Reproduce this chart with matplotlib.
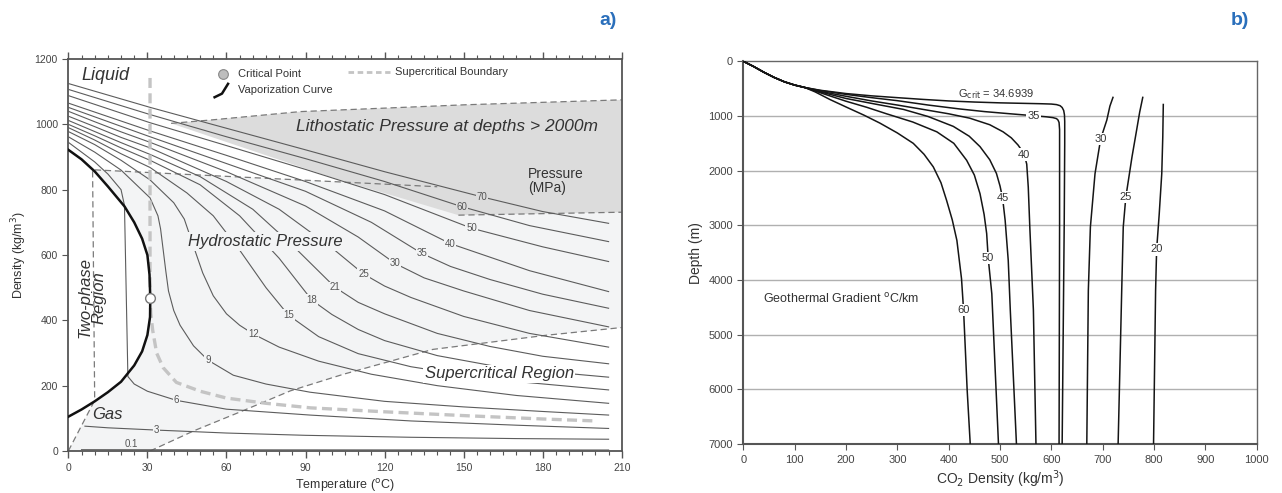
import matplotlib
matplotlib.use("Agg")
import matplotlib.pyplot as plt
import numpy as np

plt.rcParams['font.family'] = ['Liberation Sans', 'DejaVu Sans']

# ---------------- panel a data: isobars as (temperature C, density kg/m3) ----------------
iso_01 = [(5, 4), (60, 3.5), (205, 3)]
iso_3 = [(6.3, 76), (15, 71), (33.5, 64), (60, 55), (90, 48), (130, 42), (170, 38), (205, 36)]
iso_6 = [(0, 945), (10, 885), (15, 848), (20, 800), (21.3, 752), (22.6, 228), (25, 205), (30, 183),
         (41, 155), (60, 128), (91.7, 110), (130, 92), (170, 79), (205, 69)]
iso_9 = [(0, 962), (10, 915), (20, 860), (31, 775), (34, 720), (35, 680), (36, 615), (37, 550),
         (38, 490), (40, 430), (42.4, 385), (47.5, 322), (53, 278), (62.6, 232), (75, 205),
         (91.7, 180), (120, 152), (150, 135), (180, 121), (205, 110)]
iso_12 = [(0, 978), (10, 938), (20, 890), (31, 830), (40, 760), (44, 710), (48, 615), (51, 545),
          (55, 475), (60, 420), (65, 385), (70.2, 358), (80, 318), (95, 275), (115, 235),
          (140, 200), (170, 170), (205, 146)]
iso_15 = [(0, 990), (10, 952), (20, 910), (31, 868), (45, 790), (55, 720), (65, 615), (75, 500),
          (83.5, 416), (95, 350), (110, 298), (130, 258), (160, 220), (205, 187)]
iso_18 = [(0, 1000), (10, 965), (20, 928), (31, 890), (50, 815), (65, 720), (80, 590), (92.4, 462),
          (100, 418), (110, 372), (120, 338), (140, 292), (165, 255), (205, 226)]
iso_21 = [(0, 1012), (10, 978), (20, 944), (31, 908), (50, 840), (70, 740), (85, 630), (101.2, 501),
          (110, 455), (120, 420), (140, 360), (160, 320), (180, 290), (205, 267)]
iso_25 = [(0, 1025), (10, 993), (20, 960), (31, 928), (60, 825), (80, 740), (100, 622), (112, 542),
          (120, 505), (130, 470), (150, 412), (175, 360), (205, 318)]
iso_30 = [(0, 1040), (10, 1008), (20, 977), (31, 945), (60, 855), (90, 750), (110, 655), (124, 574),
          (135, 530), (150, 490), (175, 430), (205, 380)]
iso_35 = [(0, 1052), (31, 962), (60, 880), (90, 795), (115, 700), (134.1, 605), (145, 565),
          (160, 525), (180, 480), (205, 437)]
iso_40 = [(0, 1065), (31, 980), (60, 905), (90, 825), (120, 735), (144.9, 635), (175, 552), (205, 488)]
iso_50 = [(0, 1088), (31, 1005), (60, 935), (90, 862), (120, 785), (153, 682), (180, 625), (205, 580)]
iso_60 = [(0, 1107), (31, 1030), (60, 962), (90, 895), (120, 825), (149.3, 748), (175, 690), (205, 641)]
iso_70 = [(0, 1125), (31, 1052), (60, 988), (90, 922), (120, 855), (156.9, 778), (180, 733), (205, 697)]

iso_names = ['0.1', '3', '6', '9', '12', '15', '18', '21', '25', '30', '35', '40', '50', '60', '70']
iso_data = [iso_01, iso_3, iso_6, iso_9, iso_12, iso_15, iso_18, iso_21, iso_25, iso_30,
            iso_35, iso_40, iso_50, iso_60, iso_70]

# vaporization curve (lower branch -> critical point -> upper branch)
vap_T = [0, 5, 10, 15, 20, 25, 28, 30, 31, 31.1, 30.8, 30, 28, 25, 21.3, 15, 10, 5, 0]
vap_rho = [105, 127, 152, 180, 212, 262, 305, 355, 410, 468, 540, 600, 650, 700, 749, 810, 856, 893, 922]
crit_T, crit_rho = 31.1, 468

# supercritical boundary (thick grey dashes)
sc_T = [31, 31, 31.3, 32, 33.5, 36, 41, 50, 60, 75, 92, 120, 151, 180, 200]
sc_rho = [1142, 470, 420, 370, 300, 255, 210, 183, 162, 146, 132, 120, 108, 98, 92]

# hydrostatic region boundaries (thin dashes)
gasbox_T = [0, 10, 9.2, 140]
gasbox_rho = [0, 155, 861, 809]
hydro_T = [31, 47.7, 65.3, 84.2, 104.4, 138.3, 181, 210]
hydro_rho = [0, 62, 120, 184, 235, 311, 354, 378]

# lithostatic wedge
litho_top_T = [39, 55, 88, 151, 210]
litho_top_rho = [1003, 1014, 1039, 1060, 1075]
litho_bot_T = [148, 210]
litho_bot_rho = [722, 731]
litho_edge_T = [99]
litho_edge_rho = [840]

# ---------------- panel b data: density (kg/m3) vs depth (m) per gradient ----------------
bundle = [(0, 0), (20, 95), (40, 200), (60, 295), (80, 375), (100, 435), (120, 480)]
g_crit = bundle + [(150, 530), (200, 590), (250, 632), (300, 665), (350, 697), (400, 725), (450, 745),
                   (500, 760), (550, 770), (580, 776), (600, 782), (610, 792), (617, 812), (621, 845),
                   (624, 900), (625.5, 980), (626, 1100), (626, 1500), (625, 3000), (623, 5000),
                   (621, 7000)]
g_35 = bundle + [(150, 535), (200, 605), (250, 665), (300, 720), (360, 800), (420, 870), (470, 920),
                 (520, 960), (565, 995), (590, 1015), (603, 1030), (610, 1048), (613, 1075),
                 (615, 1120), (616, 1250), (616, 3000), (615, 7000)]
g_40 = bundle + [(150, 550), (200, 640), (250, 725), (300, 800), (344, 870), (400, 960), (441, 1040),
                 (480, 1160), (506, 1290), (522, 1400), (535, 1530), (544, 1650), (549, 1770),
                 (552, 1880), (555, 2300), (558, 3030), (565, 4550), (570, 7000)]
g_45 = bundle + [(150, 560), (200, 680), (250, 770), (312, 880), (360, 1010), (409, 1190), (440, 1370),
                 (461, 1560), (480, 1800), (493, 2050), (500, 2280), (505, 2500), (510, 2910),
                 (516, 3640), (520, 4550), (532, 7000)]
g_50 = bundle + [(150, 575), (200, 730), (240, 840), (279, 960), (330, 1110), (377, 1290), (410, 1500),
                 (435, 1810), (450, 2080), (461, 2420), (469, 2800), (474, 3150), (477, 3600),
                 (484, 4250), (497, 7000)]
g_60 = bundle + [(140, 560), (169, 700), (200, 835), (235, 985), (266, 1130), (300, 1310), (331, 1500),
                 (352, 1700), (370, 1930), (385, 2220), (396, 2545), (407, 2900), (416, 3275),
                 (425, 3975), (429, 4550), (436, 6010), (442, 7000)]
g_30 = [(720, 660), (714, 820), (708, 1075), (696, 1420), (685, 2055), (676, 3030), (672, 4190), (669, 7000)]
g_25 = [(778, 660), (772, 930), (766, 1260), (757, 1750), (745, 2485), (740, 3030), (737, 4190), (730, 7000)]
g_20 = [(818, 790), (817, 1380), (815, 2055), (810, 2800), (805, 3445), (803, 4190), (799, 7000)]

grad_names = ['60', '50', '45', '40', '35', '30', '25', '20']
grad_data = [g_60, g_50, g_45, g_40, g_35, g_30, g_25, g_20]

# ---------------- figure ----------------
FILL = '#f3f4f5'
LITHO = '#dcdcdc'
LINE = '#5c5c5c'
DASH = '#7a7a7a'
SCGREY = '#c4c4c4'
TXT = '#333333'

fig = plt.figure(figsize=(12.82, 4.93), dpi=100)
ax = fig.add_axes([0.0533, 0.0852, 0.4317, 0.7951])
bx = fig.add_axes([0.5798, 0.0990, 0.4005, 0.7767])

# ---- panel a ----
ax.set_xlim(0, 210)
ax.set_ylim(0, 1200)

fx = gasbox_T + [210, 210] + hydro_T[::-1]
fy = gasbox_rho + [800, 378] + hydro_rho[::-1]
ax.fill(fx, fy, color=FILL, lw=0, zorder=0)

lx = litho_top_T + litho_bot_T[::-1] + litho_edge_T
ly = litho_top_rho + litho_bot_rho[::-1] + litho_edge_rho
ax.fill(lx, ly, color=LITHO, lw=0, zorder=0.5)
ax.plot(litho_top_T, litho_top_rho, color=DASH, lw=0.9, dashes=(5, 3), zorder=2)
ax.plot(litho_bot_T, litho_bot_rho, color=DASH, lw=0.9, dashes=(5, 3), zorder=2)

ax.fill(vap_T, vap_rho, color='white', lw=0, zorder=1)

ax.plot(gasbox_T, gasbox_rho, color=DASH, lw=0.9, dashes=(5, 3), zorder=2)
ax.plot(hydro_T, hydro_rho, color=DASH, lw=0.9, dashes=(5, 3), zorder=2)

label_T = [24, 33.5, 41, 53, 70.2, 83.5, 92.4, 101.2, 112, 124, 134.1, 144.9, 153, 149.3, 156.9]
for name, pts, tl in zip(iso_names, iso_data, label_T):
    t = [p[0] for p in pts]
    r = [p[1] for p in pts]
    ax.plot(t, r, color=LINE, lw=0.8, zorder=3)
    if name == '0.1':
        ax.text(tl, 22, name, fontsize=7, color='#555', ha='center', va='center', zorder=6)
        continue
    rl = np.interp(tl, t, r)
    fc = LITHO if name in ('60', '70') else FILL
    ax.text(tl, rl, name, fontsize=7, color='#555', ha='center', va='center', zorder=6,
            bbox=dict(boxstyle='square,pad=0.08', fc=fc, ec='none'))

ax.plot(sc_T, sc_rho, color=SCGREY, lw=2.4, dashes=(3, 1.6), zorder=3.5)
ax.plot(vap_T, vap_rho, color='#111111', lw=1.8, zorder=4)
ax.plot(crit_T, crit_rho, 'o', ms=7, mfc='white', mec='#777', mew=1.0, zorder=5)

# legend drawn in data space
ax.plot(58.6, 1153, 'o', ms=7, mfc='#bdbdbd', mec='#888', mew=0.8)
ax.text(64.4, 1153, 'Critical Point', fontsize=8, color=TXT, va='center')
ax.plot([55.5, 58.3, 60.6], [1083, 1094, 1124], color='#111', lw=1.8)
ax.text(64.4, 1105, 'Vaporization Curve', fontsize=8, color=TXT, va='center')
ax.plot([106.3, 122], [1160, 1160], color=SCGREY, lw=2, dashes=(2, 1.3))
ax.text(124, 1160, 'Supercritical Boundary', fontsize=8, color=TXT, va='center')

ax.text(13.9, 1148, 'Liquid', fontsize=13, style='italic', color=TXT, ha='center', va='center')
ax.text(143.7, 993, 'Lithostatic Pressure at depths > 2000m', fontsize=12.5, style='italic',
        color=TXT, ha='center', va='center', zorder=6)
ax.text(174.5, 868, 'Pressure\n(MPa)', fontsize=10, color=TXT, ha='left', va='top',
        linespacing=1.0, zorder=6)
ax.text(74.6, 641, 'Hydrostatic Pressure', fontsize=12, style='italic', color=TXT, ha='center',
        va='center', zorder=6, bbox=dict(boxstyle='square,pad=0.1', fc=FILL, ec='none'))
ax.text(163.5, 236, 'Supercritical Region', fontsize=12, style='italic', color=TXT, ha='center',
        va='center', zorder=6, bbox=dict(boxstyle='square,pad=0.1', fc='white', ec='none'))
ax.text(9, 471, 'Two-phase\nRegion', fontsize=12, style='italic', color=TXT, ha='center',
        va='center', rotation=90, linespacing=0.95, zorder=6)
ax.text(14.9, 112, 'Gas', fontsize=12, style='italic', color=TXT, ha='center', va='center', zorder=6)

ax.set_xticks(range(0, 211, 30))
ax.set_xticks(range(0, 211, 5), minor=True)
ax.set_yticks(range(0, 1201, 200))
ax.tick_params(axis='x', which='both', direction='out', top=True, colors='#555',
               labelcolor='#444', labelsize=7.5)
ax.tick_params(axis='x', which='major', length=5, width=1)
ax.tick_params(axis='x', which='minor', length=3, width=0.8)
ax.tick_params(axis='y', direction='out', length=4, colors='#555', labelcolor='#444', labelsize=7.5)
for s in ax.spines.values():
    s.set_color('#555')
    s.set_linewidth(1.3)
ax.set_xlabel('Temperature ($^{\\mathrm{o}}$C)', fontsize=9, color=TXT, labelpad=3)
ax.set_ylabel('Density (kg/m$^3$)', fontsize=9, color=TXT, labelpad=4)

# ---- panel b ----
bx.set_xlim(0, 1000)
bx.set_ylim(7000, 0)
for d in range(1000, 7000, 1000):
    bx.axhline(d, color='#b0b0b0', lw=1, zorder=0)

grad_label_z = [4550, 3600, 2505, 1705, 1000, 1425, 2480, 3440]
for name, pts, zl in zip(grad_names, grad_data, grad_label_z):
    dd = [p[0] for p in pts]
    zz = [p[1] for p in pts]
    bx.plot(dd, zz, color='#151515', lw=1.1, zorder=3)
    dl = np.interp(zl, zz, dd) if name != '35' else 565
    bx.text(dl, zl, name, fontsize=8, color='#333', ha='center', va='center', zorder=5,
            bbox=dict(boxstyle='square,pad=0.1', fc='white', ec='none'))
bx.plot([p[0] for p in g_crit], [p[1] for p in g_crit], color='#151515', lw=1.1, zorder=3)
bx.text(418, 600, 'G$_{\\mathrm{crit}}$ = 34.6939', fontsize=8, color='#333', ha='left', va='center',
        zorder=5)
bx.text(39, 4345, 'Geothermal Gradient $^{\\mathrm{o}}$C/km', fontsize=9, color='#333',
        ha='left', va='center')

bx.set_xticks(range(0, 1001, 100))
bx.set_yticks(range(0, 7001, 1000))
bx.tick_params(direction='out', length=4, colors='#555', labelcolor='#444', labelsize=8)
for k in ('left', 'bottom'):
    bx.spines[k].set_color('#555')
    bx.spines[k].set_linewidth(1.5)
for k in ('top', 'right'):
    bx.spines[k].set_color('#666')
    bx.spines[k].set_linewidth(1.0)
bx.set_xlabel('CO$_2$ Density (kg/m$^3$)', fontsize=10, color=TXT, labelpad=3)
bx.set_ylabel('Depth (m)', fontsize=10, color=TXT, labelpad=4)

fig.text(0.474, 0.959, 'a)', fontsize=14, fontweight='bold', color='#2a6fbb', ha='center', va='center')
fig.text(0.967, 0.959, 'b)', fontsize=14, fontweight='bold', color='#2a6fbb', ha='center', va='center')

fig.savefig('out.png', dpi=100)
